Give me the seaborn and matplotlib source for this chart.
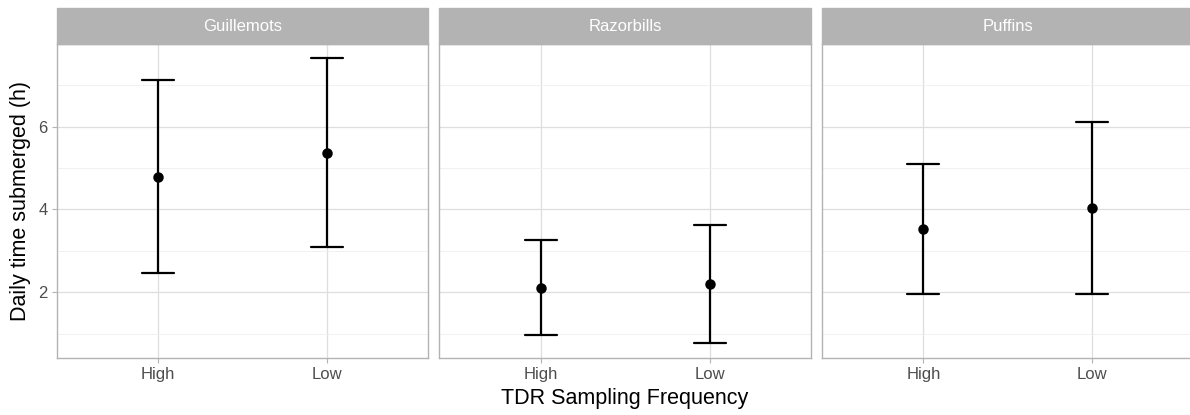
import numpy as np
import pandas as pd
import matplotlib
matplotlib.use("Agg")
import matplotlib.pyplot as plt
import matplotlib.patches as mpatches
from matplotlib.ticker import FixedLocator
import seaborn as sns

species = ["Guillemots", "Razorbills", "Puffins"]
frequencies = ["High", "Low"]
means = {"Guillemots": [4.79, 5.37], "Razorbills": [2.10, 2.19], "Puffins": [3.53, 4.03]}
lowers = {"Guillemots": [2.47, 3.09], "Razorbills": [0.96, 0.76], "Puffins": [1.96, 1.96]}
uppers = {"Guillemots": [7.13, 7.65], "Razorbills": [3.25, 3.61], "Puffins": [5.10, 6.12]}
y_major = [2, 4, 6]
y_minor = [1, 3, 5, 7]

rows = []
for sp in species:
    for i, fq in enumerate(frequencies):
        for v in (lowers[sp][i], means[sp][i], uppers[sp][i]):
            rows.append({"species": sp, "freq": fq, "value": v})
df = pd.DataFrame(rows)

sns.set_theme(style="white")
plt.rcParams["font.family"] = ["Liberation Sans", "DejaVu Sans"]

W, H = 1190, 415
fig = plt.figure(figsize=(W / 100, H / 100), dpi=100)
bottom = (H - 357.7) / H
height = (357.7 - 44) / H
width = 371.6 / W
lefts = [56.7 / W, 439.3 / W, 822 / W]
grey70 = "#B3B3B3"
grid_c = "#DEDEDE"

allv = df["value"]
rng = allv.max() - allv.min()
ylo, yhi = allv.min() - 0.05 * rng, allv.max() + 0.05 * rng

for k, sp in enumerate(species):
    ax = fig.add_axes([lefts[k], bottom, width, height])
    sub = df[df["species"] == sp]
    sns.pointplot(data=sub, x="freq", y="value", order=frequencies,
                  estimator="median", errorbar=lambda v: (v.min(), v.max()),
                  capsize=0.19, color="black", linestyle="none", markers="o",
                  markersize=5.5, err_kws={"linewidth": 1.6}, ax=ax)
    ax.set_xlim(-0.6, 1.6)
    ax.set_ylim(ylo, yhi)
    ax.yaxis.set_major_locator(FixedLocator(y_major))
    ax.yaxis.set_minor_locator(FixedLocator(y_minor))
    ax.grid(True, which="major", color=grid_c, linewidth=0.9)
    ax.grid(True, which="minor", axis="y", color="#EFEFEF", linewidth=0.6)
    ax.set_axisbelow(True)
    for s in ax.spines.values():
        s.set_color(grey70)
        s.set_linewidth(1.0)
    ax.set_xlabel("")
    ax.set_ylabel("")
    ax.tick_params(axis="both", which="major", length=3.5, width=0.8, color=grey70,
                   labelsize=12, labelcolor="#4D4D4D", pad=3)
    ax.tick_params(axis="y", which="minor", length=0)
    ax.tick_params(axis="x", bottom=True)
    ax.tick_params(axis="y", left=True)
    if k > 0:
        ax.tick_params(axis="y", left=False, labelleft=False)
    strip_h = 35.7 / 313.7
    ax.add_patch(mpatches.Rectangle((0, 1), 1, strip_h, transform=ax.transAxes,
                                    facecolor=grey70, edgecolor=grey70,
                                    linewidth=1.0, clip_on=False))
    ax.text(0.5, 1 + strip_h / 2, sp, transform=ax.transAxes, ha="center",
            va="center", color="white", fontsize=12)

fig.text(0.525, 0.04, "TDR Sampling Frequency", ha="center", va="center",
         fontsize=15.5, color="black")
fig.text(0.017, (bottom + height / 2), "Daily time submerged (h)", ha="center",
         va="center", rotation=90, fontsize=15.5, color="black")

fig.savefig("out.png", dpi=100)
